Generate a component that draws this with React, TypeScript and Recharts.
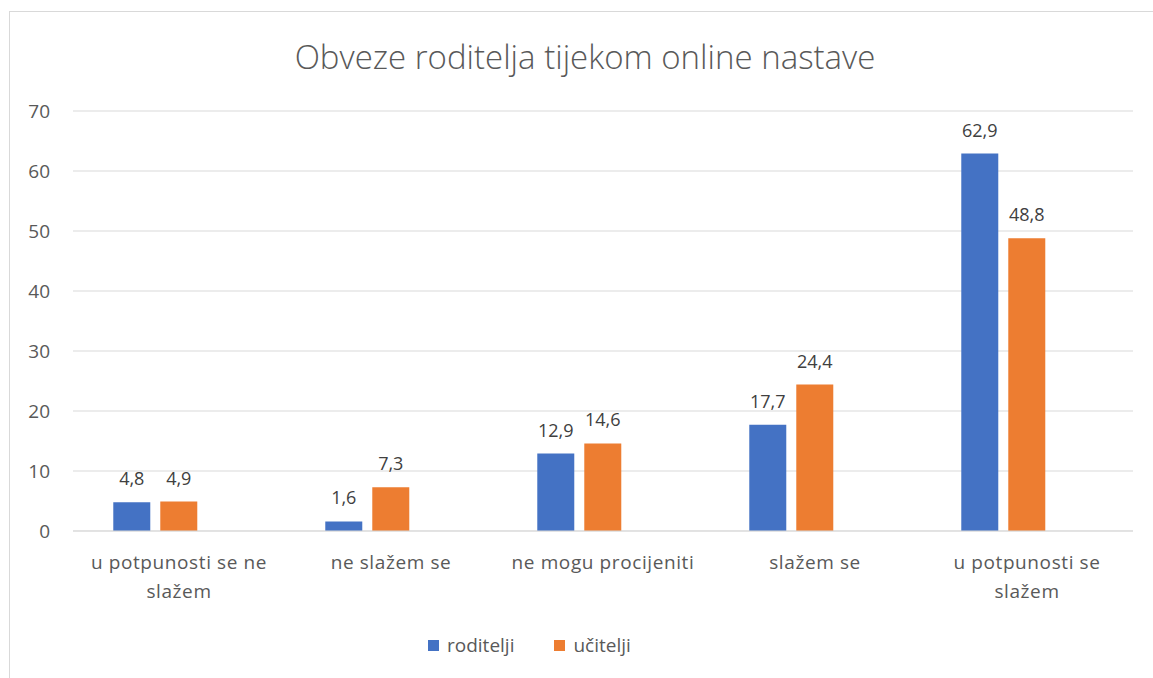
import { BarChart, Bar, XAxis, YAxis, CartesianGrid, LabelList, Legend } from 'recharts'

const categories = [
  'u potpunosti se ne\nslažem',
  'ne slažem se',
  'ne mogu procijeniti',
  'slažem se',
  'u potpunosti se\nslažem',
]
const roditelji = [4.8, 1.6, 12.9, 17.7, 62.9]
const ucitelji = [4.9, 7.3, 14.6, 24.4, 48.8]
const yTicks = [0, 10, 20, 30, 40, 50, 60, 70]

const seriesNames = { roditelji: 'roditelji', ucitelji: 'učitelji' }
const BLUE = '#4472C4'
const ORANGE = '#ED7D31'
const FONT = '"Open Sans", "Noto Sans", sans-serif'

// third empty series keeps Excel's slot offset in each category
const data = categories.map((name, i) => ({
  name,
  roditelji: roditelji[i],
  ucitelji: ucitelji[i],
  empty: null as number | null,
}))

const fmt = (v: any) => (typeof v === 'number' ? v.toFixed(1).replace('.', ',') : '')

function CategoryTick(props: any) {
  const { x, y, payload } = props
  const lines = String(payload.value).split('\n')
  return (
    <text x={x} y={y} textAnchor="middle" fill="#595959" fontSize={19} fontFamily={FONT} letterSpacing={0.6}>
      {lines.map((l, i) => (
        <tspan key={i} x={x} dy={i === 0 ? 30 : 29}>
          {l}
        </tspan>
      ))}
    </text>
  )
}

function LegendContent() {
  const items = [
    { label: seriesNames.roditelji, color: BLUE },
    { label: seriesNames.ucitelji, color: ORANGE },
  ]
  return (
    <div style={{ display: 'flex', gap: 40, fontFamily: FONT, fontSize: 19, color: '#595959' }}>
      {items.map((it) => (
        <span key={it.label} style={{ display: 'flex', alignItems: 'center', gap: 8 }}>
          <span style={{ width: 11, height: 11, background: it.color, display: 'inline-block' }} />
          {it.label}
        </span>
      ))}
    </div>
  )
}

export default function App() {
  return (
    <div
      style={{
        position: 'fixed',
        left: 0,
        top: 0,
        width: 1153,
        height: 678,
        background: '#fff',
        overflow: 'hidden',
      }}
    >
      <div
        style={{
          position: 'absolute',
          left: 9,
          top: 11,
          width: 1200,
          height: 700,
          borderLeft: '1px solid #d9d9d9',
          borderTop: '1px solid #d9d9d9',
        }}
      />
      <div
        style={{
          position: 'absolute',
          top: 34,
          left: 0,
          width: 1170,
          textAlign: 'center',
          fontFamily: FONT,
          fontSize: 33,
          fontWeight: 300,
          color: '#595959',
        }}
      >
        Obveze roditelja tijekom online nastave
      </div>
      <div style={{ position: 'absolute', left: 0, top: 0 }}>
        <BarChart
          width={1153}
          height={678}
          data={data}
          margin={{ top: 111, right: 20, left: 0, bottom: 0 }}
          barCategoryGap="19%"
          barGap={10}
        >
          <CartesianGrid vertical={false} stroke="#d9d9d9" strokeWidth={1} />
          <XAxis
            dataKey="name"
            axisLine={{ stroke: '#d9d9d9' }}
            tickLine={false}
            tick={<CategoryTick />}
            interval={0}
            height={121}
          />
          <YAxis
            domain={[0, 70]}
            ticks={yTicks}
            width={73}
            axisLine={false}
            tickLine={false}
            tickSize={0}
            tickMargin={23}
            tick={{ fill: '#595959', fontSize: 19, fontFamily: FONT }}
          />
          <Legend
            verticalAlign="bottom"
            content={<LegendContent />}
            wrapperStyle={{ left: 428, top: 632, width: 260, height: 26 }}
          />
          <Bar dataKey="roditelji" name={seriesNames.roditelji} fill={BLUE} isAnimationActive={false}>
            <LabelList dataKey="roditelji" position="top" offset={17} formatter={fmt} fill="#404040" fontSize={18} fontFamily={FONT} />
          </Bar>
          <Bar dataKey="ucitelji" name={seriesNames.ucitelji} fill={ORANGE} isAnimationActive={false}>
            <LabelList dataKey="ucitelji" position="top" offset={17} formatter={fmt} fill="#404040" fontSize={18} fontFamily={FONT} />
          </Bar>
          <Bar dataKey="empty" legendType="none" fill="transparent" isAnimationActive={false} />
        </BarChart>
      </div>
    </div>
  )
}
